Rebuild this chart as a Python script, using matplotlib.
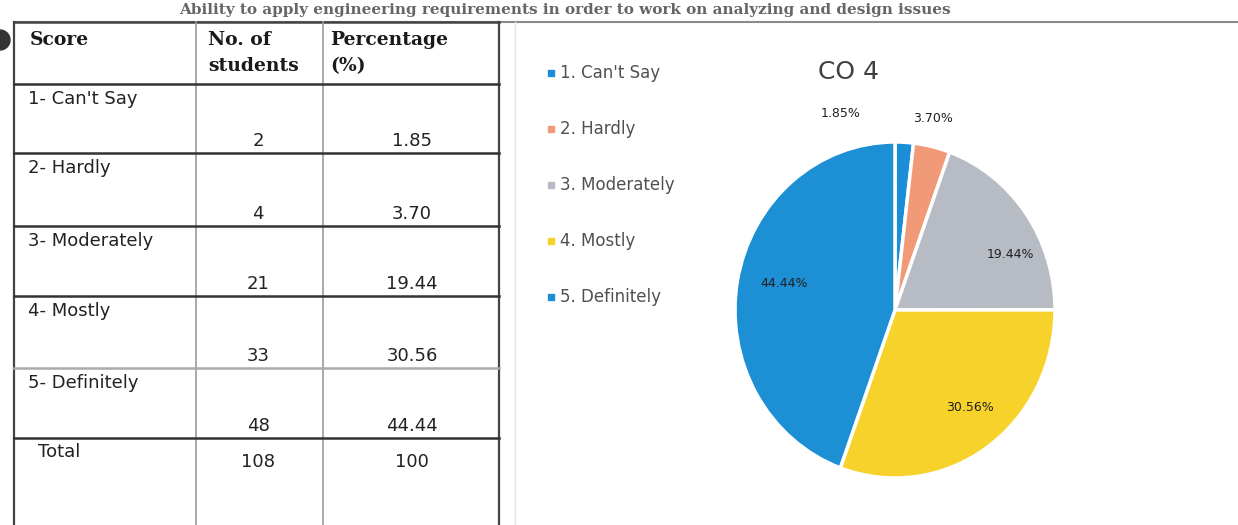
import matplotlib.pyplot as plt
from matplotlib.patches import Circle

# table data
scores = ["1- Can't Say", "2- Hardly", "3- Moderately", "4- Mostly", "5- Definitely"]
students = [2, 4, 21, 33, 48]
percent = [1.85, 3.70, 19.44, 30.56, 44.44]
total_students = 108
total_percent = 100

# pie chart
legend_labels = ["1. Can't Say", "2. Hardly", "3. Moderately", "4. Mostly", "5. Definitely"]
slice_labels = ["1.85%", "3.70%", "19.44%", "30.56%", "44.44%"]
colors = ["#1a8ed8", "#f09a78", "#b7bcc4", "#f6d22a", "#1c8fd5"]
# where excel put the data labels (pie units)
label_pos = [(-0.34, 1.17), (0.24, 1.14), (0.72, 0.33), (0.47, -0.58), (-0.69, 0.16)]

W, H = 1238, 525
fig = plt.figure(figsize=(W / 100, H / 100), dpi=100)
fig.patch.set_facecolor("white")

# full-figure axes in pixel coords for the table part
bg = fig.add_axes([0, 0, 1, 1])
bg.set_xlim(0, W)
bg.set_ylim(H, 0)
bg.axis("off")

# caption line at the top of the scan
bg.text(565, 10, "Ability to apply engineering requirements in order to work on analyzing and design issues",
        ha="center", va="center", fontsize=11, fontweight="bold", family="DejaVu Serif", color="#666666")
bg.add_patch(Circle((0, 40), 10, color="#333333"))

# table grid
col_x = [14, 196, 323, 499]
row_y = [22, 84, 153, 226, 296, 368, 438, 525]
bg.plot([14, W], [22, 22], color="#8a8a8a", lw=1.5)
bg.plot([14, 499], [22, 22], color="#444444", lw=1.8)
for i, x in enumerate(col_x):
    c = "#444444" if i in (0, 3) else "#9a9a9a"
    bg.plot([x, x], [22, H], color=c, lw=1.6 if i in (0, 3) else 1.2)
for i, y in enumerate(row_y[1:-1]):
    c = "#aaaaaa" if i == 4 else "#333333"
    bg.plot([14, 499], [y, y], color=c, lw=1.8)
bg.plot([515, 515], [22, H], color="#e4e4e4", lw=1)

# header
hdr = dict(fontsize=13.5, fontweight="bold", family="DejaVu Serif", color="#1a1a1a", va="center")
bg.text(30, 40, "Score", **hdr)
bg.text(208, 40, "No. of", **hdr)
bg.text(208, 66, "students", **hdr)
bg.text(330, 40, "Percentage", **hdr)
bg.text(330, 66, "(%)", **hdr)

body = dict(fontsize=13, family="DejaVu Sans", color="#222222", va="center")
for i in range(len(scores)):
    top, bot = row_y[i + 1], row_y[i + 2]
    bg.text(28, top + 15, scores[i], **body)
    bg.text(258, bot - 12, str(students[i]), ha="center", **body)
    bg.text(412, bot - 12, "%.2f" % percent[i], ha="center", **body)
bg.text(38, 452, "Total", **body)
bg.text(258, 462, str(total_students), ha="center", **body)
bg.text(412, 462, str(total_percent), ha="center", **body)

# legend and title of the chart
for i, lab in enumerate(legend_labels):
    y = 73 + i * 56
    bg.plot(551, y, marker="s", ms=5, color=colors[i], ls="none")
    bg.text(560, y, lab, fontsize=12, color="#505050", va="center")
bg.text(848, 72, "CO 4", fontsize=18, color="#404040", ha="center", va="center")

# pie, slightly taller than wide like the scan
cx, cy, rx, ry = 895, 310, 160, 168
ax = fig.add_axes([(cx - rx) / W, (H - cy - ry) / H, 2 * rx / W, 2 * ry / H])
ax.pie(percent, colors=colors, startangle=90, counterclock=False,
       wedgeprops=dict(edgecolor="white", linewidth=2.5))
ax.set_aspect("auto")
ax.set_xlim(-1, 1)
ax.set_ylim(-1, 1)
ax.axis("off")
for lab, (x, y) in zip(slice_labels, label_pos):
    ax.text(x, y, lab, fontsize=9, color="#202020", ha="center", va="center")

fig.savefig("out.png", dpi=100, facecolor="white")
